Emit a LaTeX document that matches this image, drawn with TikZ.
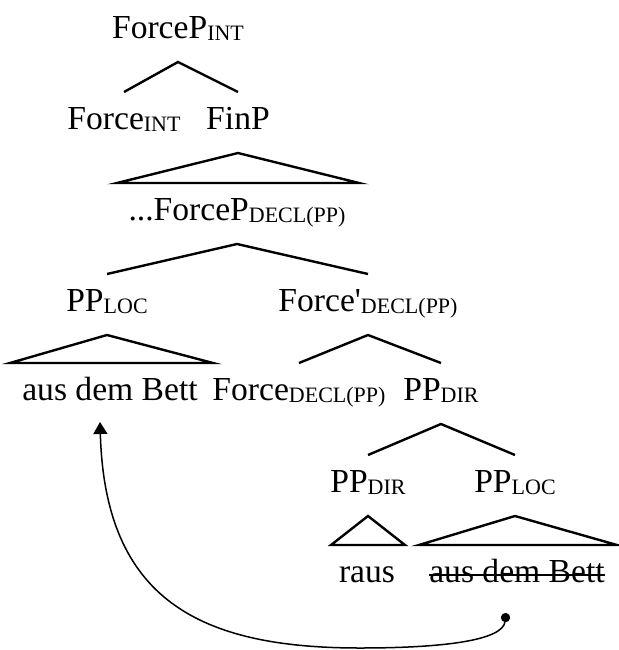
\documentclass[tikz,border=0pt]{standalone}
\usepackage{fontspec}
\setmainfont{Liberation Serif}
\usepackage{tikz}
\usetikzlibrary{arrows.meta}

\newcommand{\sbs}[1]{\raisebox{-1.3pt}{\fontsize{11}{12}\selectfont #1}}

\begin{document}
\begin{tikzpicture}[x=0.5pt, y=-0.5pt,
		lbl/.style={anchor=base, inner sep=0pt, font=\fontsize{16.8}{19}\selectfont},
		branch/.style={line width=1.2pt}]
			\useasboundingbox (0,0) rectangle (619,650);
			
			% Labels
			\node[lbl] (fpint) at (178,38) {ForceP\sbs{INT}};
			\node[lbl] (forceint) at (124,129) {Force\sbs{INT}};
			\node[lbl] (finp) at (238,129) {FinP};
			\node[lbl] (fpdecl) at (237,220) {...ForceP\sbs{DECL(PP)}};
			\node[lbl] (pploc) at (107,311) {PP\sbs{LOC}};
			\node[lbl] (forcebar) at (368,311) {Force\textquotesingle\sbs{DECL(PP)}};
			\node[lbl] (adb) at (110,400) {aus dem Bett};
			\node[lbl] (forcedecl) at (299,400) {Force\sbs{DECL(PP)}};
			\node[lbl] (ppdir) at (441,400) {PP\sbs{DIR}};
			\node[lbl] (ppdirlow) at (368,492) {PP\sbs{DIR}};
			\node[lbl] (pploclow) at (515,492) {PP\sbs{LOC}};
			\node[lbl] (raus) at (367,582) {raus};
			\node[lbl] (adbtr) at (517,582) {aus dem Bett};
			
			% Branches
			\draw[branch] ([yshift=18.5pt]forceint.base) -- ([yshift=-12pt]fpint.base) -- ([yshift=18.5pt]finp.base);
			\draw[branch] ([yshift=18.5pt]pploc.base) -- ([yshift=-12pt]fpdecl.base) -- ([yshift=18.5pt]forcebar.base);
			\draw[branch] ([yshift=18.5pt]forcedecl.base) -- ([yshift=-12pt]forcebar.base) -- ([yshift=18.5pt]ppdir.base);
			\draw[branch] ([yshift=18.5pt]ppdirlow.base) -- ([yshift=-12pt]ppdir.base) -- ([yshift=18.5pt]pploclow.base);
			
			% Triangles
			\draw[branch] ([yshift=-12pt]finp.base) -- ([xshift=61pt,yshift=18.5pt]fpdecl.base) -- ([xshift=-60pt,yshift=18.5pt]fpdecl.base) -- cycle;
			\draw[branch] ([yshift=-12pt]pploc.base) -- ([xshift=51.5pt,yshift=18.5pt]adb.base) -- ([xshift=-50pt,yshift=18.5pt]adb.base) -- cycle;
			\draw[branch] ([yshift=-12pt]ppdirlow.base) -- ([xshift=19pt,yshift=18.5pt]raus.base) -- ([xshift=-18pt,yshift=18.5pt]raus.base) -- cycle;
			\draw[branch] ([yshift=-12pt]pploclow.base) -- ([xshift=50pt,yshift=18.5pt]adbtr.base) -- ([xshift=-49pt,yshift=18.5pt]adbtr.base) -- cycle;
			
			% Strike-through of the copy
			\draw[line width=0.7pt] ([yshift=3.5pt]adbtr.base west) -- ([yshift=3.5pt]adbtr.base east);
			
			% Movement arrow
			\coordinate (trace) at (506,613);
			\coordinate (low) at (360,648);
			\coordinate (landing) at (100,422);
			\draw[line width=0.75pt, {Circle[length=4.6pt]}-{Triangle[width=7pt,length=6pt]}] (trace) .. controls (503,641) and (440,648) .. (low) .. controls (200,648) and (105,600) .. (landing);
		\end{tikzpicture}
\end{document}
